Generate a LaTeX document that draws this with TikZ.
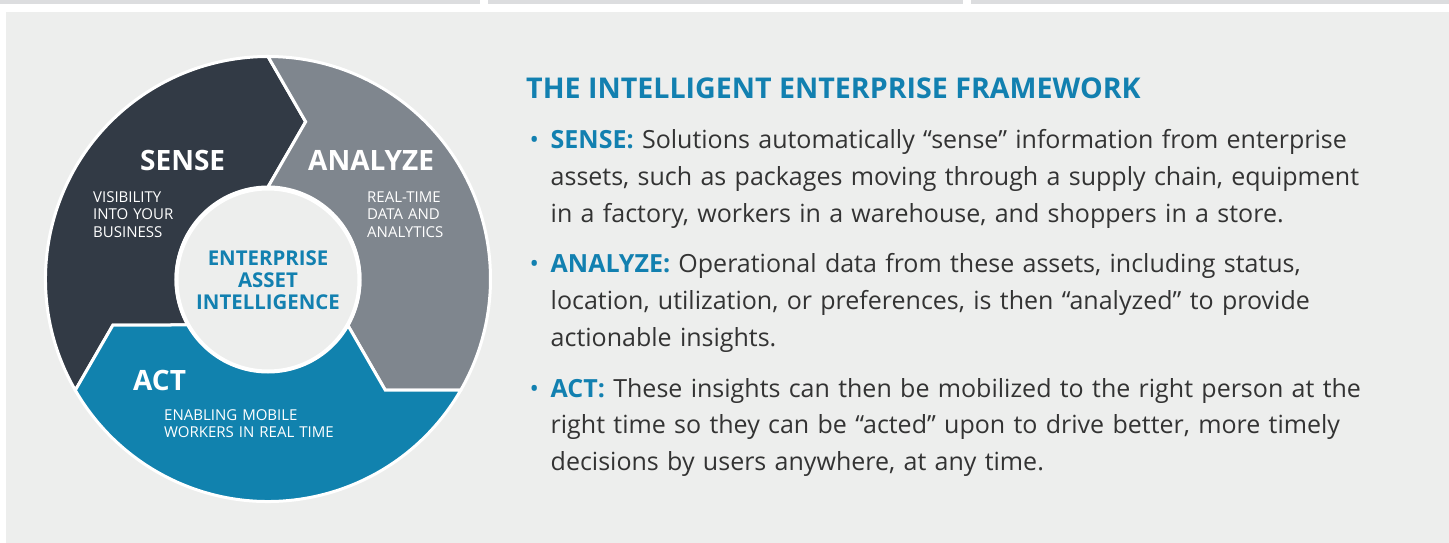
\documentclass[tikz,border=0pt]{standalone}
\usepackage{fontspec}
\setmainfont{Open Sans}
\usepackage{xcolor}
\definecolor{panelgrey}{RGB}{237,238,237}
\definecolor{bargrey}{RGB}{220,221,223}
\definecolor{senseslate}{RGB}{50,58,69}
\definecolor{analyzegrey}{RGB}{127,134,142}
\definecolor{actblue}{RGB}{17,130,174}
\definecolor{titleblue}{RGB}{18,128,176}
\definecolor{bodygrey}{RGB}{51,51,51}
\usetikzlibrary{positioning}
\tikzstyle{segment}=[draw=white, line width=3pt, line join=miter]
\tikzstyle{steplabel}=[anchor=base west, inner sep=0pt, text=white, font=\fontsize{28}{30}\selectfont\bfseries]
\tikzstyle{stepnote}=[inner sep=0pt, text=white, text width=20em, align=left, font=\fontsize{15}{17.3}\selectfont]
\tikzstyle{hub}=[circle, fill=panelgrey, draw=white, line width=4pt, minimum size=183pt, inner sep=0pt, text=titleblue, align=center, font=\fontsize{20.4}{22}\selectfont\bfseries]
\tikzstyle{heading}=[anchor=base west, inner sep=0pt, text=titleblue, font=\fontsize{28.6}{30}\selectfont\bfseries]
\tikzstyle{itemtext}=[inner sep=0pt, text=bodygrey, text width=890pt, align=left, font=\fontsize{25}{37}\selectfont]
\tikzstyle{itemdot}=[inner sep=0pt, text=titleblue, font=\fontsize{25}{37}\selectfont]
\newcommand{\keyword}[1]{\textcolor{titleblue}{\bfseries #1}}

\begin{document}
\begin{tikzpicture}[x=1pt, y=1pt, node distance=8em]
		\useasboundingbox (-268,-264) rectangle (1181,279);
		\fill[white] (-268,-264) rectangle (1181,279);
		\fill[bargrey] (-268,275) rectangle (212,279);
		\fill[bargrey] (220,275) rectangle (695,279);
		\fill[bargrey] (703,275) rectangle (1181,279);
		\fill[panelgrey] (-262,-264) rectangle (1181,267);
		
		
		% the three chevron segments of the ring
		\filldraw[segment, fill=senseslate] (210:222.5) arc[start angle=210, end angle=90, radius=222.5] -- (76.53:161.7) -- (90:92) arc[start angle=90, end angle=210, radius=92] -- (196.53:161.7) -- cycle;
		\filldraw[segment, fill=analyzegrey] (90:222.5) arc[start angle=90, end angle=-30, radius=222.5] -- (-43.47:161.7) -- (-30:92) arc[start angle=-30, end angle=90, radius=92] -- (76.53:161.7) -- cycle;
		\filldraw[segment, fill=actblue] (-30:222.5) arc[start angle=-30, end angle=-150, radius=222.5] -- (-163.47:161.7) -- (-150:92) arc[start angle=-150, end angle=-30, radius=92] -- (-43.47:161.7) -- cycle;
		
		
		\node(hub)[hub] at (0,-1) {ENTERPRISE\\ASSET\\INTELLIGENCE};
		
		
		\node(s1)[steplabel] at (-128,108) {SENSE};
		\node(s1-1)[stepnote, below left=31.6pt and 47pt of s1.base west, anchor=base west]{VISIBILITY\\INTO YOUR\\BUSINESS};
		
		
		\node(s2)[steplabel] at (40,108) {ANALYZE};
		\node(s2-1)[stepnote, below right=31.6pt and 59pt of s2.base west, anchor=base west]{REAL-TIME\\DATA AND\\ANALYTICS};
		
		
		\node(s3)[steplabel] at (-135,-111.6) {ACT};
		\node(s3-1)[stepnote, below right=30.1pt and 31pt of s3.base west, anchor=base west]{ENABLING MOBILE\\WORKERS IN REAL TIME};
		
		
		\node(h1)[heading] at (258,180) {THE INTELLIGENT ENTERPRISE FRAMEWORK};
		
		
		\node(h1-1)[itemtext, below right=50pt and 24.5pt of h1.base west, anchor=base west]{\keyword{SENSE:} Solutions automatically “sense” information from enterprise\\
		assets, such as packages moving through a supply chain, equipment\\
		in a factory, workers in a warehouse, and shoppers in a store.};
		
		
		\node(h1-2)[itemtext, below=124pt of h1-1.base west, anchor=base west]{\keyword{ANALYZE:} Operational data from these assets, including status,\\
		location, utilization, or preferences, is then “analyzed” to provide\\
		actionable insights.};
		
		
		\node(h1-3)[itemtext, below=124pt of h1-2.base west, anchor=base west]{\keyword{ACT:} These insights can then be mobilized to the right person at the\\
		right time so they can be “acted” upon to drive better, more timely\\
		decisions by users anywhere, at any time.};
		
		
		\node(d1)[itemdot, left=21pt of h1-1.base west, anchor=base west]{•};
		\node(d2)[itemdot, left=21pt of h1-2.base west, anchor=base west]{•};
		\node(d3)[itemdot, left=21pt of h1-3.base west, anchor=base west]{•};
		
\end{tikzpicture}
\end{document}
